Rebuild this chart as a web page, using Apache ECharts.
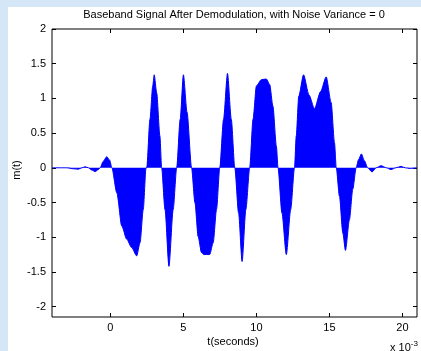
<!DOCTYPE html>
<html>
<head>
<meta charset="utf-8">
<script src="https://cdn.jsdelivr.net/npm/echarts@6/dist/echarts.min.js"></script>
<style>
  html, body { margin: 0; padding: 0; background: #d5e6f6; }
  #container { width: 421px; height: 351px; }
</style>
</head>
<body>
<div id="container"></div>
<script>
// envelope of demodulated baseband signal, t in ms (axis shows x 10^-3 s)
var tMs = [-4, -3, -2.5, -2.2, -1.95, -1.73, -1.5, -1.3, -1.04, -0.8, -0.7, -0.5, -0.25, -0.05, 0.1,
  0.44, 0.78, 1.12, 1.46, 1.8, 2.03, 2.25, 2.44,
  2.49, 2.71, 2.9, 3.0, 3.17, 3.39, 3.51,
  3.74, 4.01, 4.3, 4.54,
  4.78, 5.0, 5.25, 5.56,
  5.79, 6.01, 6.24, 6.4, 6.8, 7.04, 7.27, 7.49,
  7.75, 8.02, 8.28, 8.52,
  8.78, 9.02, 9.28, 9.54,
  9.77, 10.0, 10.34, 10.68, 10.91, 11.13, 11.37, 11.48,
  11.75, 12.05, 12.35, 12.61,
  12.73, 12.9, 13.23, 13.6, 13.98, 14.4, 14.78, 15.12, 15.35, 15.47,
  15.69, 15.92, 16.1, 16.37, 16.6, 16.83,
  17.0, 17.19, 17.4, 17.62, 17.92, 18.2, 18.54, 18.9, 19.22, 19.55, 19.9, 20.2, 20.5, 21]
var envelope = [0, 0, -0.015, -0.02, 0, 0.015, 0, -0.03, -0.055, -0.02, 0, 0.09, 0.16, 0.11, 0,
  -0.36, -0.84, -1.03, -1.15, -1.27, -1.08, -0.6, 0,
  0, 0.7, 1.18, 1.34, 1.08, 0.46, 0,
  -0.6, -1.42, -0.6, 0,
  0.7, 1.34, 0.8, 0,
  -0.5, -0.99, -1.22, -1.25, -1.25, -1.08, -0.6, 0,
  0.7, 1.36, 0.7, 0,
  -0.65, -1.35, -0.6, 0,
  0.7, 1.18, 1.27, 1.28, 1.2, 0.89, 0.31, 0,
  -0.65, -1.25, -0.6, 0,
  0.46, 1.03, 1.34, 1.05, 0.85, 1.1, 1.31, 0.94, 0.36, 0,
  -0.41, -0.94, -1.19, -0.75, -0.31, 0,
  0.12, 0.2, 0.1, 0, -0.06, 0, 0.03, 0, -0.025, 0, 0.02, 0, -0.01, 0]

var xTicks = [0, 5, 10, 15, 20]
var yTicks = [-2, -1.5, -1, -0.5, 0, 0.5, 1, 1.5, 2]

var myChart = echarts.init(document.getElementById('container'))

var font = 'Liberation Sans, Arial, sans-serif'
var seriesData = tMs.map(function (t, i) { return [t, envelope[i]] })

function xAxisOpt(pos, labels) {
  return {
    type: 'value', position: pos, min: -4, max: 21,
    axisLine: { show: false, onZero: false },
    axisTick: { show: true, inside: true, length: 4, customValues: xTicks, lineStyle: { color: '#000' } },
    axisLabel: { show: labels, customValues: xTicks, color: '#000', fontFamily: font, fontSize: 11, margin: 5 },
    splitLine: { show: false }
  }
}
function yAxisOpt(pos, labels) {
  return {
    type: 'value', position: pos, min: -2.15, max: 2,
    axisLine: { show: false, onZero: false },
    axisTick: { show: true, inside: true, length: 4, customValues: yTicks, lineStyle: { color: '#000' } },
    axisLabel: { show: labels, customValues: yTicks, color: '#000', fontFamily: font, fontSize: 11, margin: 6 },
    splitLine: { show: false }
  }
}

myChart.setOption({
  backgroundColor: '#d5e6f6',
  animation: false,
  graphic: [
    { type: 'rect', z: -10, shape: { x: 8, y: 7, width: 413, height: 344 }, style: { fill: '#ffffff' } },
    { type: 'text', x: 234, y: 15, style: { text: 'Baseband Signal After Demodulation, with Noise Variance = 0', fontFamily: font, fontSize: 11, fill: '#000', align: 'center', verticalAlign: 'middle' } },
    { type: 'text', x: 233, y: 342, style: { text: 't(seconds)', fontFamily: font, fontSize: 11, fill: '#000', align: 'center', verticalAlign: 'middle' } },
    { type: 'text', x: 17, y: 170, rotation: Math.PI / 2, style: { text: 'm(t)', fontFamily: font, fontSize: 11, fill: '#000', align: 'center', verticalAlign: 'middle' } },
    { type: 'text', x: 390, y: 340, style: { text: 'x 10{s|-3}', fontFamily: font, fontSize: 11, fill: '#000', rich: { s: { fontSize: 8, fontFamily: font, padding: [0, 0, 7, 0] } } } }
  ],
  grid: { left: 52, top: 29, right: 4, bottom: 34, show: true, borderColor: '#000', borderWidth: 1, backgroundColor: 'transparent' },
  xAxis: [xAxisOpt('bottom', true), xAxisOpt('top', false)],
  yAxis: [yAxisOpt('left', true), yAxisOpt('right', false)],
  series: [
    {
      type: 'line',
      data: seriesData,
      showSymbol: false,
      smooth: 0.25,
      smoothMonotone: 'x',
      lineStyle: { color: '#0000ff', width: 1 },
      areaStyle: { color: '#0000ff', opacity: 1 }
    }
  ]
})
</script>
</body>
</html>
